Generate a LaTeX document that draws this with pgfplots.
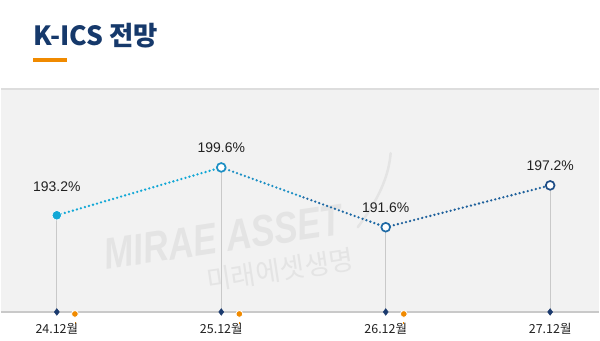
\documentclass[border=0pt]{standalone}
\usepackage{pgfplots}
\pgfplotsset{compat=1.18}
\usepackage{fontspec}
\setmainfont{Noto Sans CJK KR}
\newfontfamily\wm{Liberation Sans}
\newfontfamily\numf{Liberation Sans}
\definecolor{titlec}{HTML}{16396B}
\definecolor{orng}{HTML}{F08A00}
\definecolor{panel}{HTML}{F2F2F2}
\definecolor{axl}{HTML}{C9C9C9}
\definecolor{ptop}{HTML}{DDDDDD}
\definecolor{cA}{HTML}{12A8D6}
\definecolor{cB}{HTML}{1C8FC4}
\definecolor{cC}{HTML}{1F6AA5}
\definecolor{cD}{HTML}{1E4D86}
\definecolor{navy}{HTML}{1B3A6E}
\definecolor{wmc}{HTML}{E4E4E4}
\definecolor{txt}{HTML}{222222}
\begin{document}
\begin{tikzpicture}
\begin{axis}[
  scale only axis, width=600pt, height=342pt,
  xmin=-0.339394, xmax=3.296970, ymin=176.4, ymax=222.0,
  axis lines=none, ticks=none, clip=false,
]
% full frame (white)
\fill[white] (axis cs:-0.339394,176.4) rectangle (axis cs:3.296970,222.0);
% panel
\fill[panel] (axis cs:-0.339394,210.0) rectangle (axis cs:3.296970,180.267);
\draw[ptop, line width=1.5pt] (axis cs:-0.339394,210.1) -- (axis cs:3.296970,210.1);
% watermark
\node[wmc, rotate=8.5, xscale=0.8, font=\wm\bfseries\itshape\fontsize{44}{44}\selectfont] at (axis cs:1.012,190.3) {MIRAE ASSET};
\node[wmc, rotate=8.5, font=\fontsize{27}{27}\selectfont] at (axis cs:1.358,185.9) {미래에셋생명};
\draw[wmc, line width=2.5pt, line cap=round] (axis cs:1.830,191.6) .. controls (axis cs:1.98,196.0) and (axis cs:2.02,199.0) .. (axis cs:2.03,201.5);
% title
\node[anchor=west, titlec, font=\bfseries\fontsize{26.5}{26.5}\selectfont, inner sep=0pt] at (axis cs:-0.1455,217.2) {K-ICS 전망};
\fill[orng] (axis cs:-0.14545,213.733) rectangle (axis cs:0.0606,214.267);
% axis line
\draw[axl, line width=2pt] (axis cs:-0.339394,180.267) -- (axis cs:3.296970,180.267);
% drop lines
\addplot[axl, line width=1pt, forget plot] coordinates {(0,180.267) (0,193.2)};
\addplot[axl, line width=1pt, forget plot] coordinates {(1,180.267) (1,199.6)};
\addplot[axl, line width=1pt, forget plot] coordinates {(2,180.267) (2,191.6)};
\addplot[axl, line width=1pt, forget plot] coordinates {(3,180.267) (3,197.2)};
% segments
\addplot[cA, line width=2.6pt, line cap=round, dash pattern=on 0pt off 4.2pt] coordinates {(0,193.2) (1,199.6)};
\addplot[cB, line width=2.6pt, line cap=round, dash pattern=on 0pt off 4.2pt] coordinates {(1,199.6) (1.5,195.6)};
\addplot[cC, line width=2.6pt, line cap=round, dash pattern=on 0pt off 4.2pt] coordinates {(1.5,195.6) (2,191.6)};
\addplot[cC!70!cD, line width=2.6pt, line cap=round, dash pattern=on 0pt off 4.2pt] coordinates {(2,191.6) (3,197.2)};
% base markers
\addplot[only marks, mark=diamond*, mark size=3.4pt, navy] coordinates {(0,180.267) (1,180.267) (2,180.267) (3,180.267)};
\addplot[only marks, mark=*, mark size=3.4pt, orng, mark options={draw=white, line width=0.8pt}] coordinates {(0.11,180.0) (1.11,180.0) (2.11,180.0)};
\addplot[orng, line width=0.8pt, forget plot] coordinates {(0.11,178.9) (0.11,178.6)};
\addplot[orng, line width=0.8pt, forget plot] coordinates {(1.11,178.9) (1.11,178.6)};
\addplot[orng, line width=0.8pt, forget plot] coordinates {(2.11,178.9) (2.11,178.6)};
% point markers
\addplot[only marks, mark=*, mark size=4.8pt, cA, mark options={draw=white, line width=0.6pt}] coordinates {(0,193.2)};
\addplot[only marks, mark=*, mark size=4.4pt, cB, mark options={fill=white, line width=1.7pt}] coordinates {(1,199.6)};
\addplot[only marks, mark=*, mark size=4.4pt, cC, mark options={fill=white, line width=1.7pt}] coordinates {(2,191.6)};
\addplot[only marks, mark=*, mark size=4.4pt, cD, mark options={fill=white, line width=1.7pt}] coordinates {(3,197.2)};
% value labels
\node[txt, font=\numf\fontsize{14}{14}\selectfont] at (axis cs:0,197.07) {193.2\%};
\node[txt, font=\numf\fontsize{14}{14}\selectfont] at (axis cs:1,202.27) {199.6\%};
\node[txt, font=\numf\fontsize{14}{14}\selectfont] at (axis cs:2,194.27) {191.6\%};
\node[txt, font=\numf\fontsize{14}{14}\selectfont] at (axis cs:3,199.87) {197.2\%};
% month labels
\node[txt, font=\fontsize{12.5}{12.5}\selectfont] at (axis cs:0,178.0) {24.12월};
\node[txt, font=\fontsize{12.5}{12.5}\selectfont] at (axis cs:1,178.0) {25.12월};
\node[txt, font=\fontsize{12.5}{12.5}\selectfont] at (axis cs:2,178.0) {26.12월};
\node[txt, font=\fontsize{12.5}{12.5}\selectfont] at (axis cs:3,178.0) {27.12월};
\end{axis}
\end{tikzpicture}
\end{document}
